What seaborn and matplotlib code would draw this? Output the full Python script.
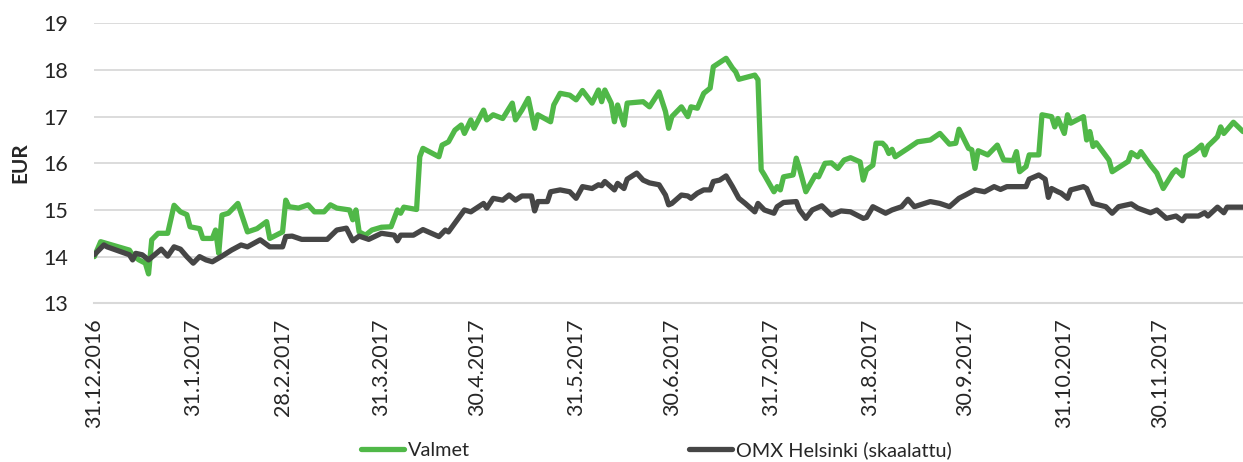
import pandas as pd
import matplotlib.pyplot as plt
from matplotlib.lines import Line2D
import seaborn as sns

START = pd.Timestamp("2016-12-31")

# days after 31.12.2016, price in EUR
valmet_days = [0, 2, 11, 12, 14, 16, 17, 18, 20, 23, 25, 27, 29, 30, 33, 34, 37, 38, 39, 40,
               42, 45, 48, 51, 54, 55, 59, 60, 61, 64, 67, 69, 72, 74, 76, 80, 81, 82, 83, 85,
               87, 90, 93, 95, 96, 97, 101, 102, 103, 108, 109, 111, 113, 115, 116, 118, 119, 122, 123, 125,
               128, 131, 132, 134, 136, 138, 139, 143, 144, 146, 149, 151, 153, 156, 158, 159, 160, 162, 163, 164,
               166, 167, 172, 174, 177, 179, 180, 181, 184, 186, 187, 189, 191, 193, 194, 198, 200, 201, 202, 207,
               208, 209, 210, 213, 214, 215, 216, 219, 220, 221, 223, 226, 227, 229, 231, 233, 235, 237, 240, 241,
               242, 244, 245, 247, 248, 249, 250, 251, 255, 258, 262, 265, 268, 270, 271, 274, 275, 276, 277, 280,
               283, 285, 288, 289, 290, 292, 293, 296, 297, 300, 301, 302, 304, 305, 306, 310, 311, 312, 313, 314,
               318, 319, 324, 325, 327, 328, 331, 333, 335, 338, 339, 341, 342, 345, 347, 348, 349, 351, 352, 353,
               354, 357, 360]
valmet_eur = [14.00, 14.32, 14.14, 14.03, 13.93, 13.86, 13.63, 14.36, 14.50, 14.50, 15.10, 14.96, 14.90, 14.64, 14.60, 14.39, 14.39, 14.57, 14.07, 14.89,
              14.93, 15.14, 14.53, 14.60, 14.75, 14.39, 14.53, 15.21, 15.07, 15.04, 15.11, 14.96, 14.96, 15.11, 15.04, 15.00, 14.79, 15.00, 14.53, 14.46,
              14.57, 14.63, 14.64, 15.00, 14.93, 15.06, 15.01, 16.14, 16.32, 16.14, 16.39, 16.46, 16.71, 16.82, 16.64, 16.93, 16.75, 17.14, 16.93, 17.04,
              16.96, 17.29, 16.93, 17.14, 17.39, 16.75, 17.04, 16.89, 17.25, 17.50, 17.46, 17.36, 17.56, 17.29, 17.57, 17.32, 17.57, 17.29, 16.89, 17.25,
              16.82, 17.29, 17.32, 17.21, 17.53, 17.11, 16.75, 17.00, 17.21, 17.00, 17.21, 17.18, 17.50, 17.61, 18.07, 18.25, 18.04, 17.96, 17.80, 17.89,
              17.79, 15.86, 15.75, 15.39, 15.50, 15.43, 15.71, 15.75, 16.11, 15.89, 15.39, 15.75, 15.71, 16.00, 16.01, 15.89, 16.07, 16.12, 16.03, 15.64,
              15.86, 15.96, 16.43, 16.43, 16.36, 16.21, 16.30, 16.14, 16.32, 16.46, 16.50, 16.64, 16.41, 16.43, 16.73, 16.32, 16.29, 15.89, 16.27, 16.18,
              16.39, 16.07, 16.06, 16.25, 15.82, 15.93, 16.18, 16.18, 17.04, 17.00, 16.78, 16.96, 16.64, 17.04, 16.86, 17.00, 16.50, 16.68, 16.36, 16.44,
              16.07, 15.82, 16.04, 16.23, 16.14, 16.25, 15.96, 15.79, 15.46, 15.79, 15.86, 15.73, 16.14, 16.27, 16.39, 16.18, 16.37, 16.50, 16.57, 16.78,
              16.64, 16.88, 16.68]

omx_days = [0, 3, 4, 11, 12, 13, 15, 17, 21, 23, 25, 27, 29, 31, 33, 35, 37, 40, 43, 46,
            48, 52, 55, 59, 60, 62, 65, 73, 76, 79, 81, 83, 86, 90, 94, 95, 96, 100, 103, 108,
            110, 111, 116, 118, 122, 123, 125, 128, 130, 132, 134, 137, 138, 139, 142, 143, 146, 149, 151, 153,
            156, 158, 159, 160, 163, 164, 166, 167, 170, 172, 174, 177, 179, 180, 181, 184, 186, 187, 189, 191,
            193, 194, 196, 198, 200, 202, 204, 207, 208, 210, 213, 214, 216, 220, 221, 223, 225, 228, 231, 234,
            237, 241, 242, 244, 248, 250, 253, 255, 257, 262, 265, 268, 271, 273, 276, 279, 282, 284, 286, 292,
            293, 296, 298, 299, 300, 302, 303, 305, 306, 310, 311, 313, 317, 319, 321, 325, 327, 331, 333, 336,
            339, 341, 342, 346, 348, 349, 352, 354, 355, 360]
omx_eur = [14.04, 14.25, 14.21, 14.04, 13.93, 14.07, 14.04, 13.93, 14.16, 14.01, 14.21, 14.16, 14.00, 13.86, 14.00, 13.93, 13.89, 14.01, 14.14, 14.25,
           14.21, 14.36, 14.21, 14.21, 14.43, 14.44, 14.37, 14.37, 14.57, 14.61, 14.34, 14.44, 14.37, 14.50, 14.46, 14.34, 14.46, 14.46, 14.58, 14.43,
           14.57, 14.53, 15.00, 14.96, 15.14, 15.04, 15.25, 15.21, 15.32, 15.21, 15.30, 15.30, 14.98, 15.18, 15.18, 15.39, 15.43, 15.39, 15.25, 15.50,
           15.46, 15.54, 15.52, 15.61, 15.43, 15.57, 15.46, 15.66, 15.79, 15.64, 15.58, 15.54, 15.32, 15.11, 15.14, 15.32, 15.30, 15.25, 15.36, 15.43,
           15.43, 15.61, 15.64, 15.73, 15.50, 15.25, 15.14, 14.96, 15.14, 15.00, 14.93, 15.07, 15.16, 15.18, 15.00, 14.82, 15.00, 15.09, 14.89, 14.98,
           14.96, 14.82, 14.84, 15.07, 14.93, 15.00, 15.07, 15.23, 15.07, 15.18, 15.14, 15.07, 15.25, 15.32, 15.43, 15.39, 15.50, 15.44, 15.50, 15.50,
           15.66, 15.75, 15.66, 15.27, 15.46, 15.39, 15.36, 15.25, 15.43, 15.50, 15.46, 15.14, 15.07, 14.93, 15.07, 15.13, 15.04, 14.94, 15.00, 14.82,
           14.87, 14.77, 14.87, 14.87, 14.94, 14.87, 15.06, 14.94, 15.06, 15.06]

tick_labels = ["31.12.2016", "31.1.2017", "28.2.2017", "31.3.2017", "30.4.2017", "31.5.2017",
               "30.6.2017", "31.7.2017", "31.8.2017", "30.9.2017", "31.10.2017", "30.11.2017"]
y_ticks = [13, 14, 15, 16, 17, 18, 19]
series_names = ["Valmet", "OMX Helsinki (skaalattu)"]
colors = {"Valmet": "#50B848", "OMX Helsinki (skaalattu)": "#464646"}

sns.set_style("white")
plt.rcParams["font.family"] = ["Lato", "DejaVu Sans"]

df = pd.concat([
    pd.DataFrame({"date": START + pd.to_timedelta(valmet_days, unit="D"),
                  "eur": valmet_eur, "series": series_names[0]}),
    pd.DataFrame({"date": START + pd.to_timedelta(omx_days, unit="D"),
                  "eur": omx_eur, "series": series_names[1]}),
], ignore_index=True)

W, H = 1243, 462
fig = plt.figure(figsize=(W / 100, H / 100), dpi=100)
ax = fig.add_axes([94.3 / W, 1 - 303.3 / H, 1 - 94.3 / W, (303.3 - 23.3) / H])

sns.lineplot(data=df, x="date", y="eur", hue="series", palette=colors,
             hue_order=series_names, estimator=None, sort=False,
             linewidth=3.8, ax=ax, legend=False)

grid_col = "#D9D9D9"
ax.set_ylim(13, 19)
ax.set_yticks(y_ticks)
ax.set_xlim(START, START + pd.Timedelta(days=360))
ax.yaxis.grid(True, color=grid_col, linewidth=1.3)
ax.set_axisbelow(True)
for s in ["left", "right", "top"]:
    ax.spines[s].set_visible(False)
ax.spines["bottom"].set_color(grid_col)
ax.spines["bottom"].set_linewidth(1.5)

ax.set_xticks(pd.to_datetime(tick_labels, format="%d.%m.%Y"))
ax.set_xticklabels(tick_labels, rotation=90, fontsize=15.5)
ax.tick_params(axis="x", color=grid_col, length=7, width=1.3, pad=4)
ax.tick_params(axis="y", length=0, pad=19, labelsize=15.5)
ax.set_xlabel("")
ax.set_ylabel("")

fig.text(20 / W, 1 - 163 / H, "EUR", rotation=90, fontsize=15,
         fontweight="bold", ha="center", va="center")

handles = [Line2D([], [], color=colors[n], linewidth=3.8) for n in series_names]
fig.legend(handles, series_names, loc="center", bbox_to_anchor=(0.528, 1 - 450 / H),
           ncol=2, frameon=False, fontsize=14.3, handlelength=2.2,
           handletextpad=0.2, columnspacing=11.0)

fig.savefig("out.png", dpi=100)
